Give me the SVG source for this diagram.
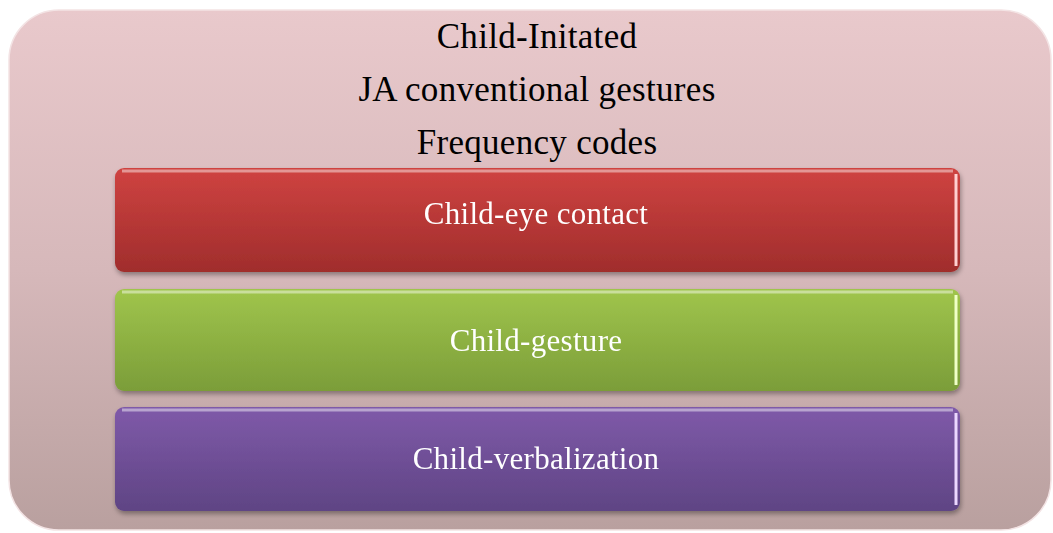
<svg xmlns="http://www.w3.org/2000/svg" width="1053" height="533" viewBox="0 0 1053 533">
<defs>
<linearGradient id="bg" x1="0" y1="0" x2="0" y2="1">
<stop offset="0" stop-color="#e9c9cc"/>
<stop offset="0.5" stop-color="#d6b8ba"/>
<stop offset="1" stop-color="#b9a09f"/>
</linearGradient>
<linearGradient id="red" x1="0" y1="0" x2="0" y2="1">
<stop offset="0" stop-color="#cf4341"/>
<stop offset="1" stop-color="#a02d2c"/>
</linearGradient>
<linearGradient id="green" x1="0" y1="0" x2="0" y2="1">
<stop offset="0" stop-color="#a0c54c"/>
<stop offset="1" stop-color="#7b9d39"/>
</linearGradient>
<linearGradient id="purple" x1="0" y1="0" x2="0" y2="1">
<stop offset="0" stop-color="#7f5aa9"/>
<stop offset="1" stop-color="#5f4484"/>
</linearGradient>
<filter id="sh" x="-5%" y="-20%" width="110%" height="150%">
<feGaussianBlur in="SourceAlpha" stdDeviation="2.5"/>
<feOffset dx="1" dy="3" result="b"/>
<feComponentTransfer><feFuncA type="linear" slope="0.35"/></feComponentTransfer>
<feMerge><feMergeNode/><feMergeNode in="SourceGraphic"/></feMerge>
</filter>
</defs>
<style>
.title{font-family:"Liberation Serif","Times New Roman",serif;font-size:35px;letter-spacing:0.3px;fill:#000;text-anchor:middle}
.lbl{font-family:"Liberation Serif","Times New Roman",serif;font-size:31px;letter-spacing:0.3px;fill:#fff;text-anchor:middle}
.hl{fill:none;stroke:#fff;stroke-opacity:0.45;stroke-width:3}
</style>
<g id="outer">
<rect x="9" y="10" width="1042" height="520" rx="50" fill="url(#bg)" stroke="#f3e3e4" stroke-width="1.5"/>
<text class="title" x="537" y="48">Child-Initated</text>
<text class="title" x="537" y="101">JA conventional gestures</text>
<text class="title" x="537" y="154">Frequency codes</text>
</g>
<g id="eye" filter="url(#sh)">
<rect x="115" y="168" width="845" height="104" rx="9" fill="url(#red)"/>
<path class="hl" d="M122 171 H953"/>
<path d="M956 174 V266" stroke="#ffd0d0" stroke-width="3" fill="none"/>
<text class="lbl" x="536" y="224">Child-eye contact</text>
</g>
<g id="gesture" filter="url(#sh)">
<rect x="115" y="289" width="845" height="102" rx="9" fill="url(#green)"/>
<path class="hl" d="M122 292 H953"/>
<path d="M956 295 V385" stroke="#f0ffc8" stroke-width="3" fill="none"/>
<text class="lbl" x="536" y="351">Child-gesture</text>
</g>
<g id="verbal" filter="url(#sh)">
<rect x="115" y="407" width="845" height="104" rx="9" fill="url(#purple)"/>
<path class="hl" d="M122 410 H953"/>
<path d="M956 413 V505" stroke="#ecd8ff" stroke-width="3" fill="none"/>
<text class="lbl" x="536" y="469">Child-verbalization</text>
</g>
<g id="connectors"></g>
</svg>
